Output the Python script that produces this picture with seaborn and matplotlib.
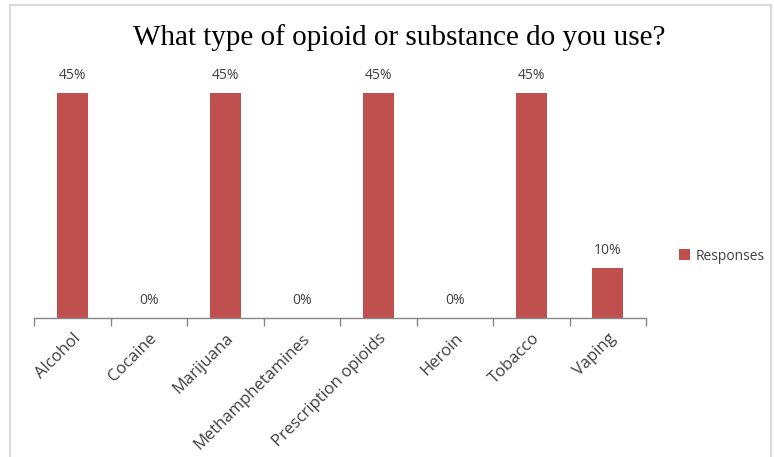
import matplotlib
matplotlib.use("Agg")
import matplotlib.pyplot as plt
import seaborn as sns
import pandas as pd
from matplotlib.patches import Rectangle

categories = ["Alcohol", "Cocaine", "Marijuana", "Methamphetamines",
              "Prescription opioids", "Heroin", "Tobacco", "Vaping"]
values = [45, 0, 45, 0, 45, 0, 45, 10]
series_name = "Responses"

df = pd.DataFrame({"Substance": categories, "Percent": values, "Series": series_name})

sns.set_theme(style="white")
plt.rcParams["font.family"] = ["Open Sans", "DejaVu Sans"]

fig = plt.figure(figsize=(7.74, 4.57), dpi=100)
ax = fig.add_axes([34/774, 1-318/457, (646-34)/774, (318-60)/457])

sns.barplot(data=df, x="Substance", y="Percent", hue="Series",
            palette=["#C0504D"], saturation=1, width=0.4, ax=ax, legend=True,
            edgecolor="none", linewidth=0)

ax.set_xlim(-0.5, len(categories)-0.5)
ax.set_ylim(0, 45*258/225)

for i, v in enumerate(values):
    ax.annotate(f"{v}%", (i, v), xytext=(0, 7), textcoords="offset points",
                ha="center", va="bottom", fontsize=10, color="#404040")

for s in ["top", "right", "left"]:
    ax.spines[s].set_visible(False)
ax.spines["bottom"].set_color("#868686")
ax.spines["bottom"].set_linewidth(1)
ax.set_yticks([])
ax.set_xlabel("")
ax.set_ylabel("")

ax.set_xticks(range(len(categories)))
ax.set_xticklabels(categories, rotation=45, ha="right", rotation_mode="anchor",
                   fontsize=12, color="#404040")
ax.tick_params(axis="x", which="major", length=0, pad=9)
ax.set_xticks([i - 0.5 for i in range(len(categories)+1)], minor=True)
ax.tick_params(axis="x", which="minor", length=6, color="#868686", width=1, bottom=True)

leg = ax.legend(loc="center left", bbox_to_anchor=(666/774, 1-256/457),
                bbox_transform=fig.transFigure, frameon=False, fontsize=10,
                handlelength=0.8, handleheight=0.8, handletextpad=0.4)
for t in leg.get_texts():
    t.set_color("#404040")

fig.text(399/774, 1-38/457, "What type of opioid or substance do you use?",
         ha="center", va="center", fontsize=21, family="Liberation Serif", color="black")

fig.patches.append(Rectangle((10/774, -0.05), (771-10)/774, 1.05 - 5/457,
                             transform=fig.transFigure, fill=False,
                             edgecolor="#D9D9D9", linewidth=1.5))

fig.savefig("out.png", dpi=100)
